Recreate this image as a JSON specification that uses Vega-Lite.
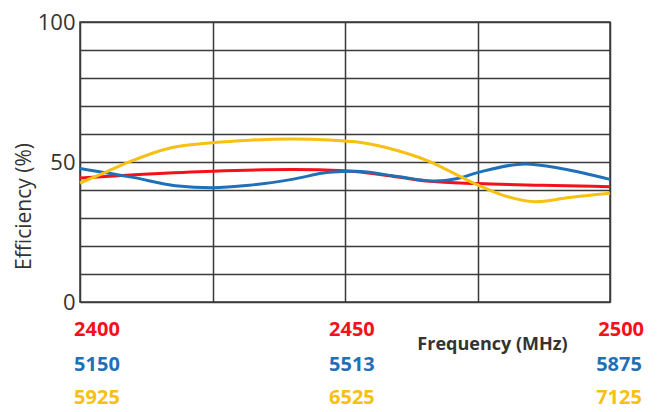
{
  "$schema": "https://vega.github.io/schema/vega-lite/v6.json",
  "width": 530,
  "height": 280,
  "autosize": {"type": "none"},
  "padding": {"left": 80, "top": 22, "right": 50, "bottom": 110},
  "background": "white",
  "config": {
    "font": "Open Sans",
    "view": {"stroke": "#3a3a3a", "strokeWidth": 1.5}
  },
  "datasets": {
    "curves": [
      {"series": "red", "f": 2400, "v": 44.3},
      {"series": "red", "f": 2412, "v": 45.6},
      {"series": "red", "f": 2425, "v": 46.7},
      {"series": "red", "f": 2440, "v": 47.3},
      {"series": "red", "f": 2450, "v": 46.9},
      {"series": "red", "f": 2460, "v": 44.6},
      {"series": "red", "f": 2466, "v": 43.1},
      {"series": "red", "f": 2475, "v": 42.3},
      {"series": "red", "f": 2487, "v": 41.7},
      {"series": "red", "f": 2500, "v": 41.2},
      {"series": "blue", "f": 2400, "v": 47.7},
      {"series": "blue", "f": 2410, "v": 44.5},
      {"series": "blue", "f": 2418, "v": 41.5},
      {"series": "blue", "f": 2425, "v": 40.8},
      {"series": "blue", "f": 2432, "v": 41.7},
      {"series": "blue", "f": 2440, "v": 43.8},
      {"series": "blue", "f": 2447, "v": 46.3},
      {"series": "blue", "f": 2452, "v": 46.7},
      {"series": "blue", "f": 2460, "v": 44.8},
      {"series": "blue", "f": 2467, "v": 43.2},
      {"series": "blue", "f": 2471, "v": 44.0},
      {"series": "blue", "f": 2475, "v": 46.2},
      {"series": "blue", "f": 2484, "v": 49.3},
      {"series": "blue", "f": 2491, "v": 47.6},
      {"series": "blue", "f": 2500, "v": 43.8},
      {"series": "yellow", "f": 2400, "v": 42.5},
      {"series": "yellow", "f": 2405, "v": 46.5},
      {"series": "yellow", "f": 2409.4, "v": 50.1},
      {"series": "yellow", "f": 2417, "v": 55.0},
      {"series": "yellow", "f": 2425, "v": 56.9},
      {"series": "yellow", "f": 2432, "v": 57.8},
      {"series": "yellow", "f": 2440, "v": 58.2},
      {"series": "yellow", "f": 2447, "v": 57.9},
      {"series": "yellow", "f": 2452, "v": 57.2},
      {"series": "yellow", "f": 2460, "v": 54.0},
      {"series": "yellow", "f": 2466, "v": 50.1},
      {"series": "yellow", "f": 2470, "v": 46.5},
      {"series": "yellow", "f": 2475, "v": 41.8},
      {"series": "yellow", "f": 2480, "v": 38.0},
      {"series": "yellow", "f": 2486, "v": 35.8},
      {"series": "yellow", "f": 2492, "v": 37.2},
      {"series": "yellow", "f": 2500, "v": 38.8}
    ],
    "labels": [
      {"series": "red", "f": 2403.2, "v": -10, "text": "2400"},
      {"series": "red", "f": 2451.3, "v": -10, "text": "2450"},
      {"series": "red", "f": 2502.1, "v": -10, "text": "2500"},
      {"series": "blue", "f": 2403.2, "v": -22.6, "text": "5150"},
      {"series": "blue", "f": 2451.3, "v": -22.6, "text": "5513"},
      {"series": "blue", "f": 2501.7, "v": -22.6, "text": "5875"},
      {"series": "yellow", "f": 2403.2, "v": -34.4, "text": "5925"},
      {"series": "yellow", "f": 2451.3, "v": -34.4, "text": "6525"},
      {"series": "yellow", "f": 2501.7, "v": -34.4, "text": "7125"}
    ]
  },
  "encoding": {
    "x": {
      "field": "f", "type": "quantitative",
      "scale": {"domain": [2400, 2500], "nice": false, "zero": false},
      "axis": {
        "values": [2400, 2425, 2450, 2475, 2500],
        "labels": false, "ticks": false, "domain": false,
        "grid": true, "gridColor": "#3a3a3a", "gridWidth": 1.5, "gridOpacity": 1,
        "title": "Frequency (MHz)",
        "titleFont": "Open Sans", "titleFontSize": 18, "titleFontWeight": "bold",
        "titleColor": "#333333",
        "titleX": 412, "titleY": 42, "titleAlign": "center", "titleBaseline": "middle"
      }
    },
    "y": {
      "field": "v", "type": "quantitative",
      "scale": {"domain": [0, 100], "nice": false},
      "axis": {
        "values": [0, 10, 20, 30, 40, 50, 60, 70, 80, 90, 100],
        "labelExpr": "datum.value % 50 === 0 ? datum.label : ''",
        "labelOverlap": false,
        "ticks": false, "domain": false,
        "grid": true, "gridColor": "#3a3a3a", "gridWidth": 1.5, "gridOpacity": 1,
        "labelFont": "Open Sans", "labelFontSize": 22, "labelColor": "#333333",
        "labelPadding": 5,
        "title": "Efficiency (%)",
        "titleFont": "Open Sans", "titleFontSize": 21, "titleFontWeight": "normal",
        "titleColor": "#333333",
        "titleX": -56, "titleY": 184, "titleAngle": -90,
        "titleAlign": "center", "titleBaseline": "middle"
      }
    },
    "color": {
      "field": "series", "type": "nominal",
      "scale": {"domain": ["red", "blue", "yellow"], "range": ["#f5101a", "#1f70b8", "#f7c012"]},
      "legend": null
    }
  },
  "layer": [
    {
      "data": {"name": "curves"},
      "mark": {"type": "line", "interpolate": "monotone", "strokeWidth": 3},
      "encoding": {
        "order": {"field": "f"}
      }
    },
    {
      "data": {"name": "labels"},
      "mark": {"type": "text", "font": "Open Sans", "fontSize": 20, "fontWeight": "bold", "align": "center", "baseline": "middle", "clip": false},
      "encoding": {
        "text": {"field": "text"}
      }
    }
  ]
}
